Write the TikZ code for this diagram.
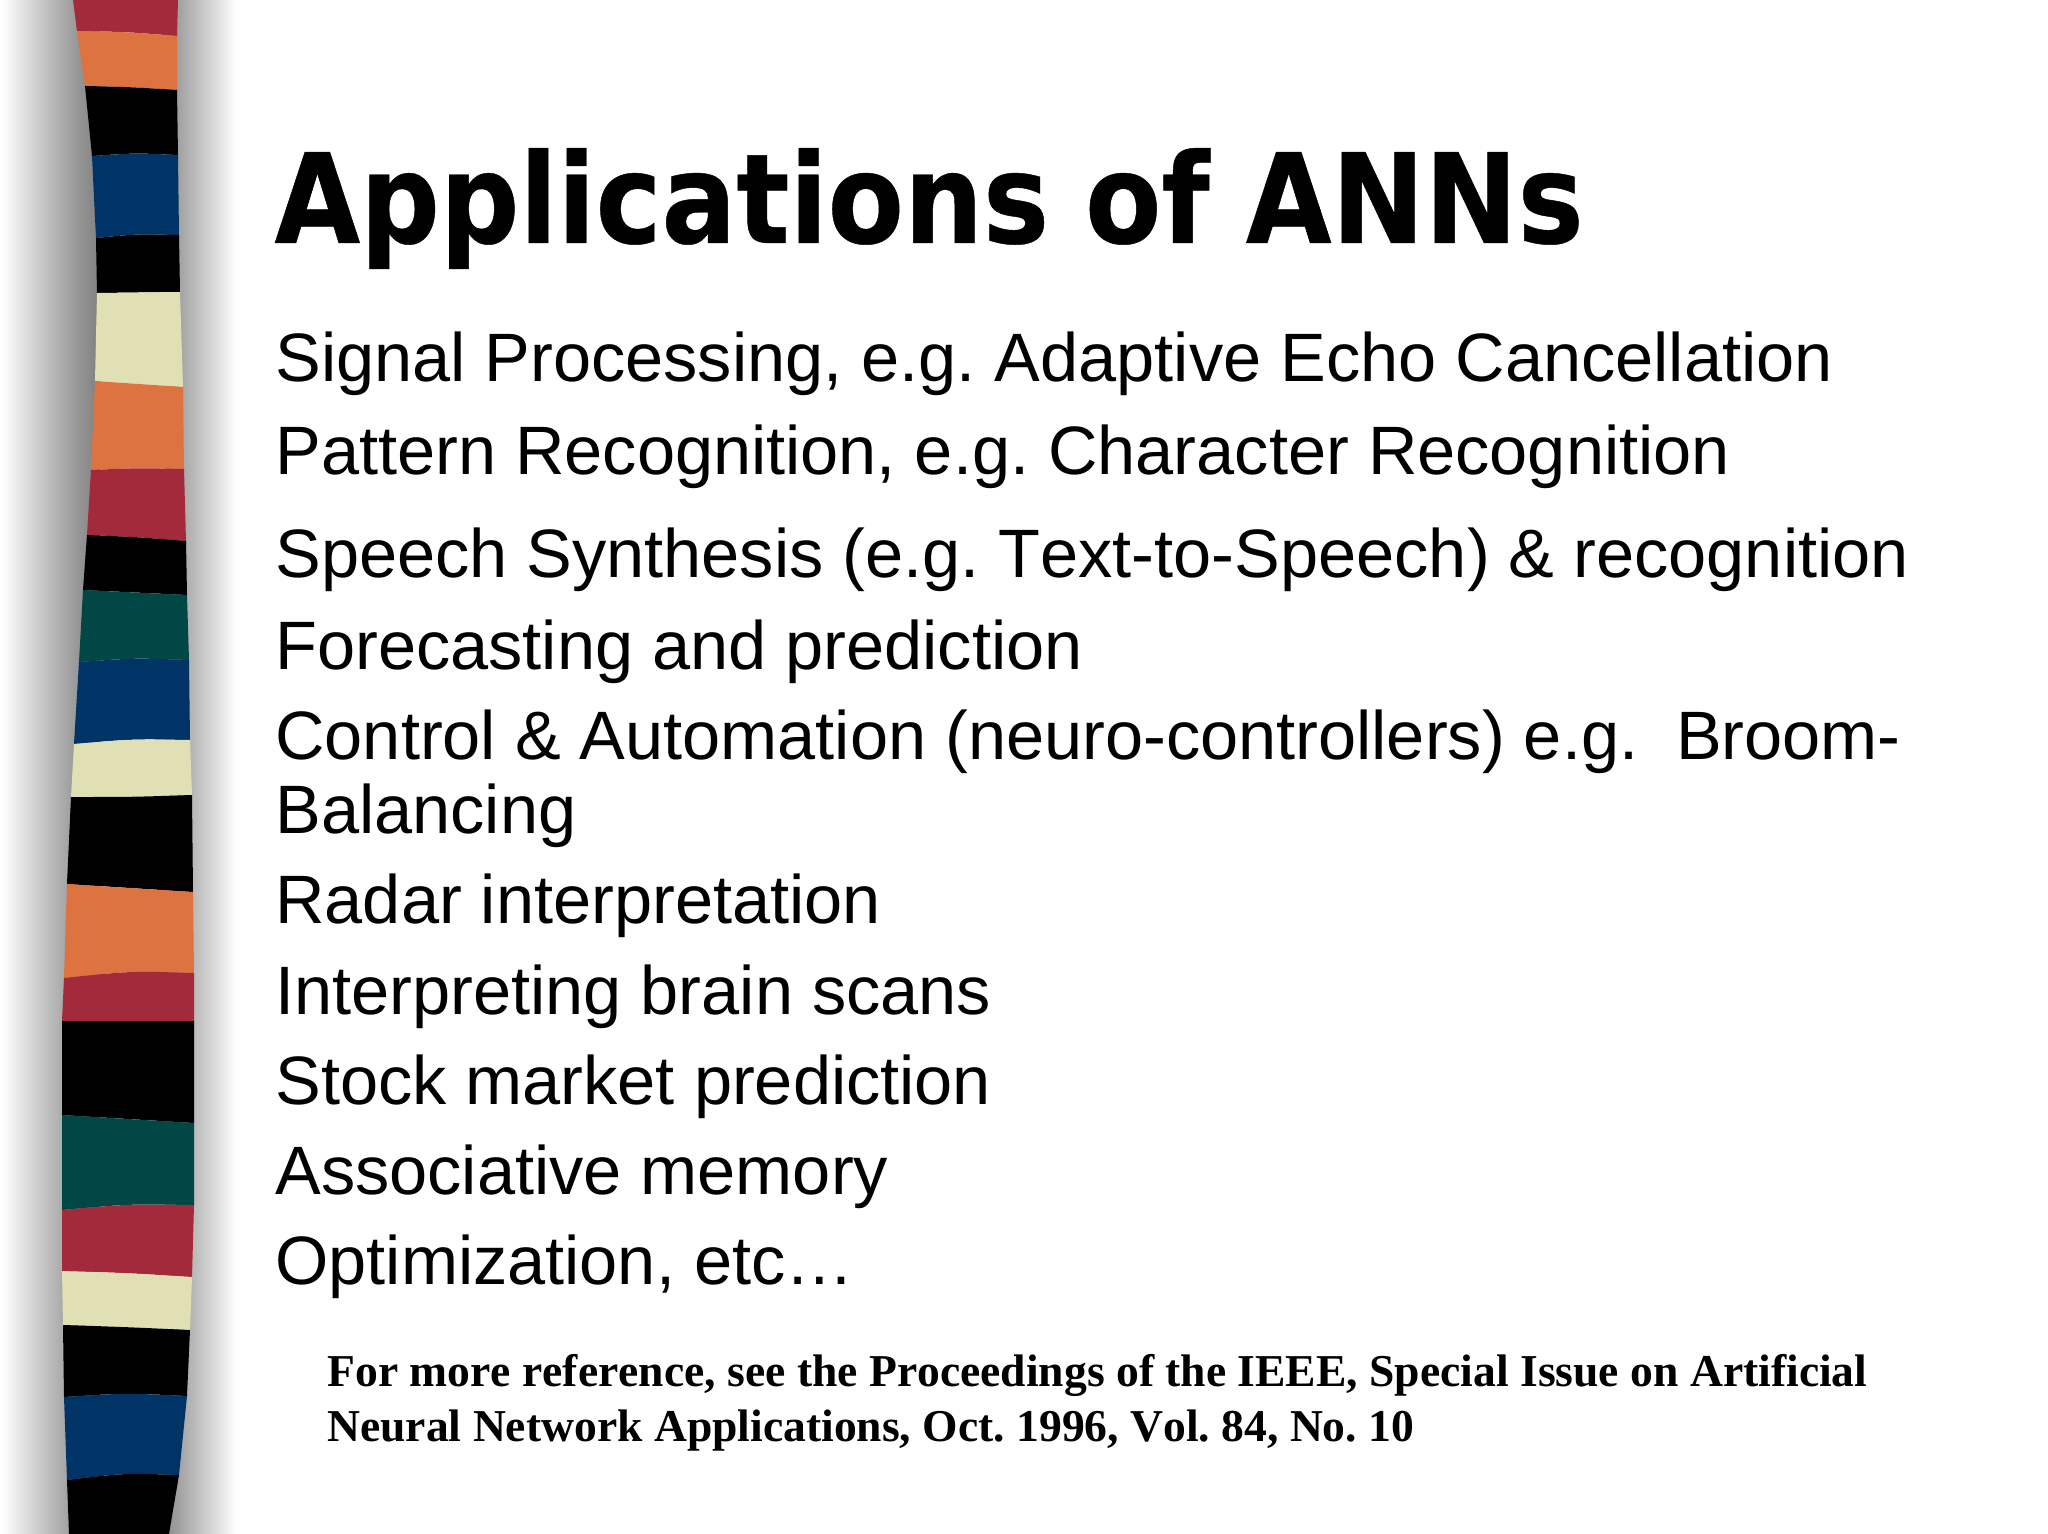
\documentclass[tikz,border=0pt]{standalone}
\usepackage{fontspec}
\setmainfont[Kerning=Off]{Liberation Sans}
\newfontfamily\titlefont[FakeStretch=0.89,FakeBold=0.35]{DejaVu Sans}
\newfontfamily\notefont[Kerning=Off]{Liberation Serif}
% TikZ maps a path's bounding box onto 25bp..75bp of a 100bp shading
\pgfdeclarehorizontalshading{shadowleft}{100bp}{rgb(0bp)=(1,1,1); rgb(25bp)=(1,1,1); rgb(27.5bp)=(0.985,0.985,0.985); rgb(35bp)=(0.90,0.90,0.90); rgb(45bp)=(0.79,0.79,0.79); rgb(55bp)=(0.68,0.68,0.68); rgb(65bp)=(0.58,0.58,0.58); rgb(75bp)=(0.50,0.50,0.50); rgb(100bp)=(0.50,0.50,0.50)}
\pgfdeclarehorizontalshading{shadowright}{100bp}{rgb(0bp)=(0.55,0.55,0.55); rgb(25bp)=(0.55,0.55,0.55); rgb(42bp)=(0.70,0.70,0.70); rgb(60bp)=(0.86,0.86,0.86); rgb(75bp)=(1,1,1); rgb(100bp)=(1,1,1)}
\definecolor{bred}{HTML}{A32A3A}
\definecolor{borange}{HTML}{DC7340}
\definecolor{bnavy}{HTML}{003366}
\definecolor{bteal}{HTML}{004746}
\definecolor{bcream}{HTML}{E0E0B4}
\tikzset{
  x=0.5pt,y=-0.5pt,
  bodytext/.style={anchor=base west,inner sep=0pt,font=\frenchspacing\fontsize{34.25pt}{40pt}\selectfont,text=black},
  notetext/.style={anchor=base west,inner sep=0pt,font=\frenchspacing\notefont\bfseries\fontsize{22.8pt}{26pt}\selectfont,text=black},
  titletext/.style={anchor=base west,inner sep=0pt,font=\titlefont\bfseries\fontsize{62.4pt}{70pt}\selectfont,text=black},
}
\newcommand{\band}[7]{\fill[#1] #2 .. controls #3 .. #4 -- #5 .. controls #6 .. #7 -- cycle;}
\begin{document}
\begin{tikzpicture}
\useasboundingbox (0,0) rectangle (2048,1534);
\fill[white] (0,0) rectangle (2048,1534);
\shade[shading=shadowleft] (0,0) rectangle (100,1534);
\shade[shading=shadowright] (165,0) rectangle (236,1534);
\band{bred}{(73,0)}{(125,0)}{(178,0)}{(177,36)}{(128,32)}{(77,31)}
\band{borange}{(77,31)}{(128,32)}{(177,36)}{(177,90)}{(130,87)}{(85,86)}
\band{black}{(85,86)}{(130,87)}{(177,90)}{(178,155)}{(135,153)}{(92,156)}
\band{bnavy}{(92,156)}{(135,153)}{(178,155)}{(179,235)}{(137,234)}{(96,238)}
\band{black}{(96,238)}{(137,234)}{(179,235)}{(180,292)}{(139,293)}{(97,293)}
\band{bcream}{(97,293)}{(139,293)}{(180,292)}{(183,387)}{(139,384)}{(95,381)}
\band{borange}{(95,381)}{(139,384)}{(183,387)}{(184,469)}{(137,468)}{(91,470)}
\band{bred}{(91,470)}{(137,468)}{(184,469)}{(186,541)}{(137,537)}{(87,535)}
\band{black}{(87,535)}{(137,537)}{(186,541)}{(187,595)}{(135,593)}{(83,590)}
\band{bteal}{(83,590)}{(135,593)}{(187,595)}{(189,660)}{(134,658)}{(79,662)}
\band{bnavy}{(79,662)}{(134,658)}{(189,660)}{(190,740)}{(132,739)}{(74,744)}
\band{bcream}{(74,744)}{(132,739)}{(190,740)}{(192,795)}{(132,797)}{(71,797)}
\band{black}{(71,797)}{(132,797)}{(192,795)}{(193,892)}{(130,888)}{(67,884)}
\band{borange}{(67,884)}{(130,888)}{(193,892)}{(194,973)}{(130,971)}{(64,978)}
\band{bred}{(64,978)}{(130,971)}{(194,973)}{(194,1021)}{(128,1021)}{(62,1021)}
\band{black}{(62,1021)}{(128,1021)}{(194,1021)}{(194,1123)}{(128,1119)}{(62,1115)}
\band{bteal}{(62,1115)}{(128,1119)}{(194,1123)}{(194,1205)}{(128,1204)}{(62,1210)}
\band{bred}{(62,1210)}{(128,1204)}{(194,1205)}{(192,1277)}{(127,1273)}{(62,1271)}
\band{bcream}{(62,1271)}{(127,1273)}{(192,1277)}{(190,1330)}{(125,1327)}{(63,1325)}
\band{black}{(63,1325)}{(125,1327)}{(190,1330)}{(187,1396)}{(125,1393)}{(64,1397)}
\band{bnavy}{(64,1397)}{(125,1393)}{(187,1396)}{(179,1475)}{(125,1473)}{(67,1480)}
\band{black}{(67,1480)}{(125,1473)}{(179,1475)}{(169,1534)}{(120,1534)}{(69,1534)}
\node[titletext] (title) at (274,243) {\spaceskip=18pt\relax Applications of ANNs};
\node[bodytext] (l1) at (275,382) {Signal Processing, e.g. Adaptive Echo Cancellation};
\node[bodytext] (l2) at (275,474) {Pattern Recognition, e.g. Character Recognition};
\node[bodytext] (l3) at (275,577) {Speech Synthesis (e.g. Text-to-Speech) \& recognition};
\node[bodytext] (l4) at (275,669) {Forecasting and prediction};
\node[bodytext] (l5) at (275,759) {Control \& Automation (neuro-controllers) e.g.\ \ Broom-};
\node[bodytext] (l5b) at (275,833) {Balancing};
\node[bodytext] (l6) at (275,923) {Radar interpretation};
\node[bodytext] (l7) at (275,1014) {Interpreting brain scans};
\node[bodytext] (l8) at (275,1104) {Stock market prediction};
\node[bodytext] (l9) at (275,1194) {Associative memory};
\node[bodytext] (l10) at (275,1284) {Optimization, etc…};
\node[notetext] (n1) at (327,1386) {For more reference, see the Proceedings of the IEEE, Special Issue on Artificial};
\node[notetext] (n2) at (327,1441) {Neural Network Applications, Oct. 1996, Vol. 84, No. 10};
\end{tikzpicture}
\end{document}
